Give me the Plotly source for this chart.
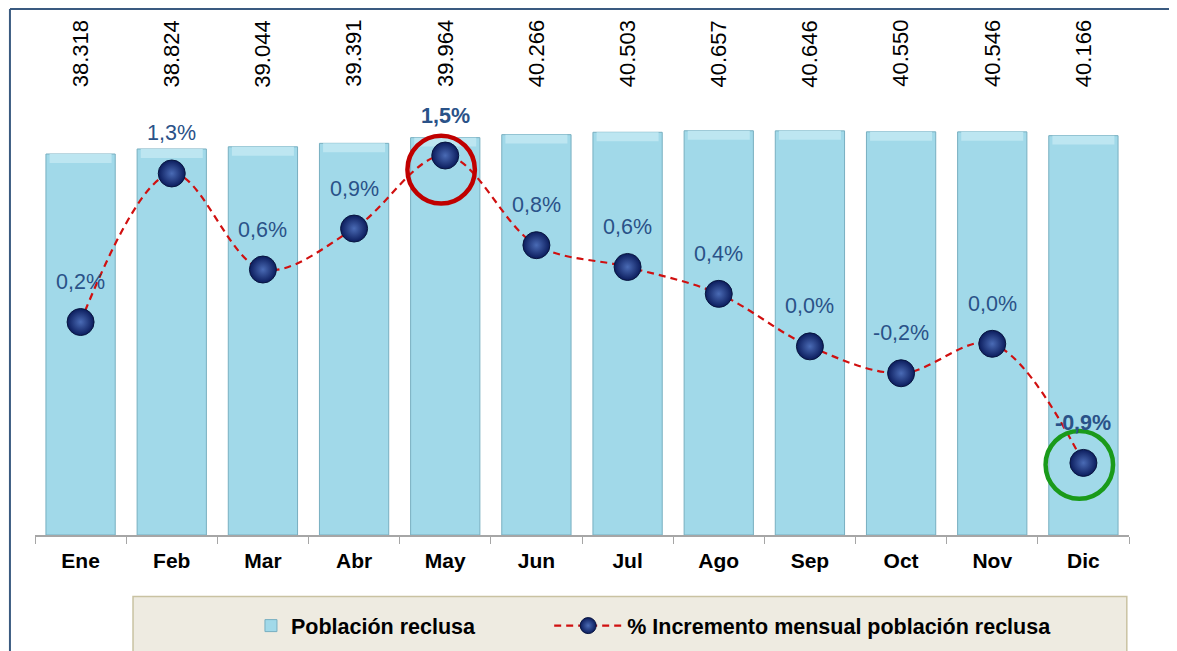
import plotly.graph_objects as go

# ---------------- data ----------------
meses = ['Ene', 'Feb', 'Mar', 'Abr', 'May', 'Jun', 'Jul', 'Ago', 'Sep', 'Oct', 'Nov', 'Dic']
poblacion = [38318, 38824, 39044, 39391, 39964, 40266, 40503, 40657, 40646, 40550, 40546, 40166]
poblacion_etiquetas = ['38.318', '38.824', '39.044', '39.391', '39.964', '40.266',
                       '40.503', '40.657', '40.646', '40.550', '40.546', '40.166']
incremento = [0.16, 1.32, 0.57, 0.89, 1.46, 0.76, 0.59, 0.38, -0.03, -0.24, -0.01, -0.94]
incremento_etiquetas = ['0,2%', '1,3%', '0,6%', '0,9%', '1,5%', '0,8%',
                        '0,6%', '0,4%', '0,0%', '-0,2%', '0,0%', '-0,9%']
destacados = {'May': '#C00000', 'Dic': '#1A9A1A'}

FONT = 'Liberation Sans, Arial, sans-serif'
LBL_BLUE = '#2A5288'

fig = go.Figure()

fig.add_trace(go.Bar(
    x=meses, y=poblacion, name='Población reclusa', legend='legend',
    marker=dict(color='#A1D9E9', line=dict(color='#78AFC0', width=1)),
    width=0.76, hoverinfo='x+y',
))
# bevel highlight at the top of each bar
fig.add_trace(go.Bar(
    x=meses, y=[900] * len(meses), base=[v - 900 for v in poblacion],
    marker=dict(color='#BDE6F1', line=dict(width=0)),
    width=0.68, showlegend=False, hoverinfo='skip',
))

fig.add_trace(go.Scatter(
    x=meses, y=incremento, yaxis='y2', name='% Incremento mensual población reclusa',
    legend='legend2',
    mode='lines+markers',
    line=dict(color='#D01010', width=2.2, dash='7px,5px', shape='spline', smoothing=1.0),
    marker=dict(size=27, color='#0B1C5C',
                gradient=dict(type='radial', color='#4A6BB5'),
                line=dict(color='#08153F', width=1)),
))

annotations = []
for m, lab in zip(meses, poblacion_etiquetas):
    annotations.append(dict(x=m, y=0.922, xref='x', yref='paper', text=lab, textangle=-90,
                            yanchor='middle', xanchor='center',
                            showarrow=False, font=dict(family=FONT, size=22, color='black')))
for m, v, lab in zip(meses, incremento, incremento_etiquetas):
    txt = f'<b>{lab}</b>' if m in destacados else lab
    annotations.append(dict(x=m, y=v, xref='x', yref='y2', text=txt, showarrow=False,
                            yshift=40, font=dict(family=FONT, size=21.5, color=LBL_BLUE)))

shapes = []
# outer frame (top and left edges visible)
frame = dict(color='#3A5A80', width=2)
shapes.append(dict(type='line', xref='paper', yref='paper', x0=-0.0229, x1=1.05, y0=1.0076, y1=1.0076,
                   line=frame, layer='below'))
shapes.append(dict(type='line', xref='paper', yref='paper', x0=-0.0229, x1=-0.0229, y0=-0.3, y1=1.0076,
                   line=frame, layer='below'))
# legend box
shapes.append(dict(type='rect', xref='paper', yref='paper', x0=0.0896, x1=0.998, y0=-0.30, y1=-0.118,
                   fillcolor='#EEEBE1', line=dict(color='#C9C2A2', width=1.5), layer='below'))
# highlight circles
for m, col in destacados.items():
    i = meses.index(m)
    v = incremento[i]
    cx = i - 0.045
    cy = v - 0.11 if m == 'May' else v - 0.015
    shapes.append(dict(type='circle', xref='x', yref='y2',
                       x0=cx - 0.37, x1=cx + 0.37, y0=cy - 0.265, y1=cy + 0.265,
                       line=dict(color=col, width=4.5)))

legend_font = dict(family=FONT, size=21.5, color='black', weight='bold')
fig.update_layout(
    width=1169, height=643,
    margin=dict(l=27, r=48, t=5, b=113),
    paper_bgcolor='white', plot_bgcolor='white',
    barmode='overlay',
    font=dict(family=FONT),
    showlegend=True,
    legend=dict(orientation='h', x=0.1974, xanchor='left', y=-0.1736, yanchor='middle',
                bgcolor='rgba(0,0,0,0)', font=legend_font, itemwidth=30),
    legend2=dict(orientation='h', x=0.470, xanchor='left', y=-0.1736, yanchor='middle',
                 bgcolor='rgba(0,0,0,0)', font=legend_font, itemwidth=68),
    xaxis=dict(type='category', tickson='boundaries', ticks='outside', ticklen=7,
               tickcolor='#A6A6A6', showline=True, linecolor='#A6A6A6', linewidth=1.5,
               ticklabelstandoff=6,
               tickfont=dict(family=FONT, size=21, color='black', weight='bold'),
               showgrid=False, range=[-0.5, 11.5]),
    yaxis=dict(range=[0, 52500], visible=False, showgrid=False),
    yaxis2=dict(range=[-1.503, 2.573], overlaying='y', visible=False, showgrid=False),
    annotations=annotations,
    shapes=shapes,
)

fig.write_html('out.html', config={'displayModeBar': False},
               post_script="document.body.style.overflow='hidden';")
